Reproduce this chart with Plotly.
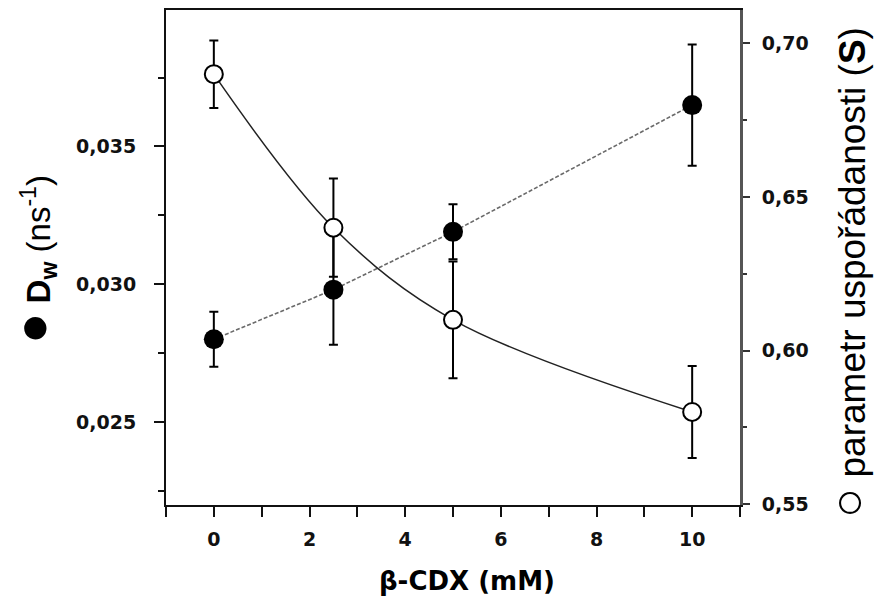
import plotly.graph_objects as go

# ---- data ----
cdx = [0, 2.5, 5, 10]                     # β-CDX (mM)
dw = [0.0280, 0.0298, 0.0319, 0.0365]     # D_w (ns^-1), filled circles
dw_err = [0.0010, 0.0020, 0.0010, 0.0022]
s_param = [0.690, 0.640, 0.610, 0.580]    # order parameter S, open circles
s_err = [0.011, 0.016, 0.019, 0.015]

x_ticks = [0, 2, 4, 6, 8, 10]
y1_ticks = [0.025, 0.030, 0.035]
y2_ticks = [0.55, 0.60, 0.65, 0.70]

W, H = 881, 603
L, R, T, B = 166, 141, 8, 98
pw, ph = W - L - R, H - T - B

def px(xp):
    return (xp - L) / pw

def py(yp):
    return (H - B - yp) / ph

tickfont = dict(family="DejaVu Sans", size=19, color="#111", weight="bold")

fig = go.Figure()

# D_w: grey dashed connecting line + filled markers
fig.add_trace(go.Scatter(
    x=cdx, y=dw, mode="lines",
    line=dict(color="#6a6a6a", width=1.6, dash="4px,2px"),
    hoverinfo="skip", showlegend=False, yaxis="y"))
fig.add_trace(go.Scatter(
    x=cdx, y=dw, mode="markers",
    marker=dict(symbol="circle", size=20, color="black", line=dict(width=0)),
    error_y=dict(type="data", array=dw_err, visible=True, color="black",
                 thickness=2, width=4.5),
    showlegend=False, yaxis="y"))

# S: smooth black curve + open markers
fig.add_trace(go.Scatter(
    x=cdx, y=s_param, mode="lines",
    line=dict(color="#222", width=1.5, shape="spline", smoothing=1.0),
    hoverinfo="skip", showlegend=False, yaxis="y2"))
fig.add_trace(go.Scatter(
    x=cdx, y=s_param, mode="markers",
    marker=dict(symbol="circle", size=18, color="white",
                line=dict(width=2, color="black")),
    error_y=dict(type="data", array=s_err, visible=True, color="black",
                 thickness=2, width=4.5),
    showlegend=False, yaxis="y2"))

fig.update_layout(
    width=W, height=H,
    margin=dict(l=L, r=R, t=T, b=B, pad=0),
    paper_bgcolor="white", plot_bgcolor="white",
    separators=",.",
    showlegend=False,
    xaxis=dict(
        range=[-1, 11], tickmode="array", tickvals=x_ticks,
        ticks="outside", ticklen=10, tickwidth=2, tickcolor="#111",
        minor=dict(dtick=1, tick0=-1, ticks="outside", ticklen=10,
                   tickwidth=2, tickcolor="#111", showgrid=False),
        showline=True, linecolor="#111", linewidth=2, mirror=True,
        showgrid=False, zeroline=False, tickfont=tickfont,
        ticklabelstandoff=6),
    yaxis=dict(
        range=[0.021985, 0.03995], tickmode="array", tickvals=y1_ticks,
        tickformat=".3f",
        ticks="outside", ticklen=10, tickwidth=2, tickcolor="#111",
        minor=dict(dtick=0.005, tick0=0.0225, ticks="outside", ticklen=6,
                   tickwidth=2, tickcolor="#111", showgrid=False),
        showline=True, linecolor="#111", linewidth=2,
        showgrid=False, zeroline=False, tickfont=tickfont,
        ticklabelstandoff=14),
    yaxis2=dict(
        range=[0.5497, 0.7109], tickmode="array", tickvals=y2_ticks,
        tickformat=".2f", overlaying="y", side="right",
        ticks="outside", ticklen=7, tickwidth=2, tickcolor="#333",
        minor=dict(dtick=0.05, tick0=0.575, ticks="outside", ticklen=4,
                   tickwidth=2, tickcolor="#333", showgrid=False),
        showline=True, linecolor="#555", linewidth=3,
        showgrid=False, zeroline=False, tickfont=tickfont,
        ticklabelstandoff=8),
    annotations=[
        dict(text="β-CDX (mM)", xref="paper", yref="paper",
             x=px(467), y=py(581), xanchor="center", yanchor="middle",
             showarrow=False,
             font=dict(family="DejaVu Sans", size=26, color="black",
                       weight="bold")),
        dict(text="<span style=\"font-size:52px\">●</span> "
                  "<b>D<sub>w</sub></b> (ns<sup>-1</sup>)",
             xref="paper", yref="paper",
             x=px(33), y=py(259), xanchor="center", yanchor="middle",
             textangle=-90, showarrow=False,
             font=dict(family="Liberation Sans, Arial", size=33,
                       color="black")),
        dict(text="<span style=\"font-size:50px\">○</span> "
                  "parametr uspořádanosti (<b>S</b>)",
             xref="paper", yref="paper",
             x=px(848), y=py(272), xanchor="center", yanchor="middle",
             textangle=-90, showarrow=False,
             font=dict(family="Liberation Sans, Arial", size=37,
                       color="black")),
    ],
)

fig.write_html("out.html")
